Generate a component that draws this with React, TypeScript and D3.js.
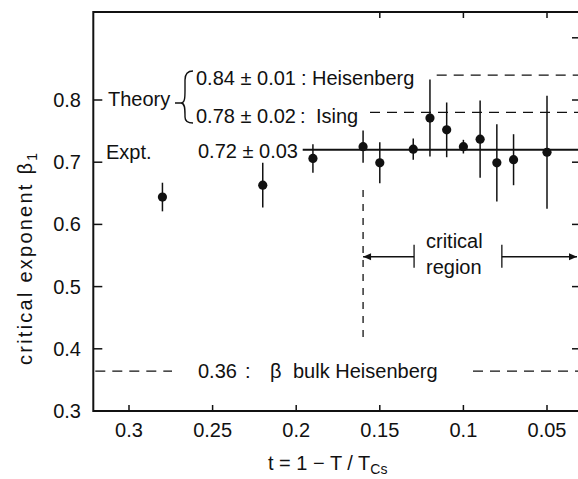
import React from "react";
import * as d3 from "d3";

// ---- data ----
const tValues = [0.28, 0.22, 0.19, 0.16, 0.15, 0.13, 0.12, 0.11, 0.1, 0.09, 0.08, 0.07, 0.05];
const betaValues = [0.644, 0.663, 0.706, 0.725, 0.699, 0.721, 0.771, 0.752, 0.725, 0.737, 0.699, 0.704, 0.716];
const betaErrors = [0.023, 0.036, 0.023, 0.026, 0.033, 0.017, 0.062, 0.044, 0.011, 0.062, 0.062, 0.041, 0.091];
const xTicks = [0.3, 0.25, 0.2, 0.15, 0.1, 0.05];
const xTickLabels = ["0.3", "0.25", "0.2", "0.15", "0.1", "0.05"];
const yTicks = [0.3, 0.4, 0.5, 0.6, 0.7, 0.8];
const yTickLabels = ["0.3", "0.4", "0.5", "0.6", "0.7", "0.8"];
const leftInnerTicks = [0.4, 0.5, 0.6, 0.7, 0.8];
const rightInnerTicks = [0.4, 0.5, 0.6, 0.7, 0.8, 0.9];
const topInnerTicks = [0.15, 0.1, 0.05];
const heisenbergTheory = 0.84;
const isingTheory = 0.78;
const expValue = 0.72;
const bulkHeisenberg = 0.364;
const criticalStart = 0.16;
const criticalBar1 = 0.1295;
const criticalBar2 = 0.077;
const criticalRegionY = 0.548;

const W = 578;
const H = 479;
const FONT = "'Liberation Sans', Arial, sans-serif";

export default function App() {
  const x = d3.scaleLinear().domain([0.3, 0.05]).range([129, 547]);
  const y = d3.scaleLinear().domain([0.3, 0.8]).range([411, 100]);
  const left = 93.3;
  const right = 580;
  const top = 12;
  const bottom = y(0.3);

  const fs = 20;
  const txt = (props: any, children: any) => (
    <text fontFamily={FONT} fontSize={fs} fill="#111" {...props}>
      {children}
    </text>
  );

  const arrowY = y(criticalRegionY);

  return (
    <svg
      width={W}
      height={H}
      style={{ position: "absolute", left: 0, top: 0, background: "#fff" }}
    >
      <rect x={0} y={0} width={W} height={H} fill="#fff" />
      {/* frame */}
      <path
        d={`M${left},${top} L${right},${top} L${right},${bottom} L${left},${bottom} Z`}
        fill="none"
        stroke="#111"
        strokeWidth={2}
      />
      {/* bottom ticks */}
      {xTicks.map((t, i) => (
        <g key={"xt" + i}>
          <line x1={x(t)} x2={x(t)} y1={bottom} y2={bottom - 6} stroke="#111" strokeWidth={1.5} />
          {txt({ x: x(t), y: 437, textAnchor: "middle" }, xTickLabels[i])}
        </g>
      ))}
      {topInnerTicks.map((t, i) => (
        <line key={"tt" + i} x1={x(t)} x2={x(t)} y1={top} y2={top + 6} stroke="#111" strokeWidth={1.5} />
      ))}
      {/* y ticks */}
      {leftInnerTicks.map((v, i) => (
        <line key={"lt" + i} x1={left} x2={left + 9} y1={y(v)} y2={y(v)} stroke="#111" strokeWidth={1.5} />
      ))}
      {rightInnerTicks.map((v, i) => (
        <line key={"rt" + i} x1={right} x2={right - 8} y1={y(v)} y2={y(v)} stroke="#111" strokeWidth={1.5} />
      ))}
      {yTicks.map((v, i) => (
        <g key={"yl" + i}>{txt({ x: 81, y: y(v) + 7, textAnchor: "end" }, yTickLabels[i])}</g>
      ))}
      {/* axis titles */}
      <text
        fontFamily={FONT}
        fontSize={fs}
        fill="#111"
        transform={`translate(32,259) rotate(-90)`}
        textAnchor="middle"
        textLength={212}
      >
        critical exponent β
        <tspan fontSize={14} dy={5}>1</tspan>
      </text>
      <text fontFamily={FONT} fontSize={20} fill="#111" x={268} y={470}>
        t = 1 − T / T<tspan fontSize={14} dy={4}>Cs</tspan>
      </text>

      {/* theory lines */}
      <line x1={436.7} x2={right} y1={y(heisenbergTheory)} y2={y(heisenbergTheory)} stroke="#111" strokeWidth={1.3} strokeDasharray="10 7" />
      <line x1={370} x2={right} y1={y(isingTheory)} y2={y(isingTheory)} stroke="#111" strokeWidth={1.3} strokeDasharray="10 7" />
      <line x1={302.7} x2={right} y1={y(expValue)} y2={y(expValue)} stroke="#111" strokeWidth={2} />
      {/* bulk line */}
      <line x1={left + 2} x2={172} y1={y(bulkHeisenberg)} y2={y(bulkHeisenberg)} stroke="#111" strokeWidth={1.3} strokeDasharray="10 7" />
      <line x1={473} x2={right} y1={y(bulkHeisenberg)} y2={y(bulkHeisenberg)} stroke="#111" strokeWidth={1.3} strokeDasharray="10 7" />

      {/* labels */}
      {txt({ x: 108, y: y(0.8) + 6 }, "Theory")}
      <path
        d={`M175,103 L181,103 C185,103 185,97 185,90 L185,80 C185,74 188,71 193,71 M181,103 C185,103 185,109 185,115 L185,117 C185,121 188,123 193,123`}
        fill="none"
        stroke="#111"
        strokeWidth={1.4}
      />
      {txt({ x: 196, y: y(heisenbergTheory) + 10 }, "0.84 ± 0.01")}
      {txt({ x: 301, y: y(heisenbergTheory) + 10 }, ":")}
      {txt({ x: 312, y: y(heisenbergTheory) + 10 }, "Heisenberg")}
      {txt({ x: 196, y: y(isingTheory) + 11 }, "0.78 ± 0.02")}
      {txt({ x: 300, y: y(isingTheory) + 11 }, ":")}
      {txt({ x: 316, y: y(isingTheory) + 11 }, "Ising")}
      {txt({ x: 106, y: y(expValue) + 9 }, "Expt.")}
      {txt({ x: 198, y: y(expValue) + 8 }, "0.72 ± 0.03")}
      {txt({ x: 198, y: y(bulkHeisenberg) + 7 }, "0.36")}
      {txt({ x: 245, y: y(bulkHeisenberg) + 7 }, ":")}
      {txt({ x: 270, y: y(bulkHeisenberg) + 7 }, "β")}
      {txt({ x: 293, y: y(bulkHeisenberg) + 7 }, "bulk  Heisenberg")}

      {/* critical region */}
      <line x1={x(criticalStart)} x2={x(criticalStart)} y1={190} y2={338} stroke="#111" strokeWidth={1.3} strokeDasharray="7 7" />
      <line x1={x(criticalStart)} x2={x(criticalBar1)} y1={arrowY} y2={arrowY} stroke="#111" strokeWidth={1.3} />
      <line x1={x(criticalBar1)} x2={x(criticalBar1)} y1={arrowY - 12} y2={arrowY + 11} stroke="#111" strokeWidth={1.3} />
      <path d={`M${x(criticalStart)},${arrowY} l8,-3.5 l0,7 Z`} fill="#111" />
      <line x1={x(criticalBar2)} x2={577} y1={arrowY} y2={arrowY} stroke="#111" strokeWidth={1.3} />
      <line x1={x(criticalBar2)} x2={x(criticalBar2)} y1={arrowY - 12} y2={arrowY + 11} stroke="#111" strokeWidth={1.3} />
      <path d={`M577,${arrowY} l-8,-3.5 l0,7 Z`} fill="#111" />
      {txt({ x: 426, y: 248 }, "critical")}
      {txt({ x: 426, y: 274 }, "region")}

      {/* data */}
      {tValues.map((t, i) => (
        <g key={"p" + i}>
          <line
            x1={x(t)}
            x2={x(t)}
            y1={y(betaValues[i] - betaErrors[i])}
            y2={y(betaValues[i] + betaErrors[i])}
            stroke="#111"
            strokeWidth={1.5}
          />
          <circle cx={x(t)} cy={y(betaValues[i])} r={4.6} fill="#111" />
        </g>
      ))}
    </svg>
  );
}
